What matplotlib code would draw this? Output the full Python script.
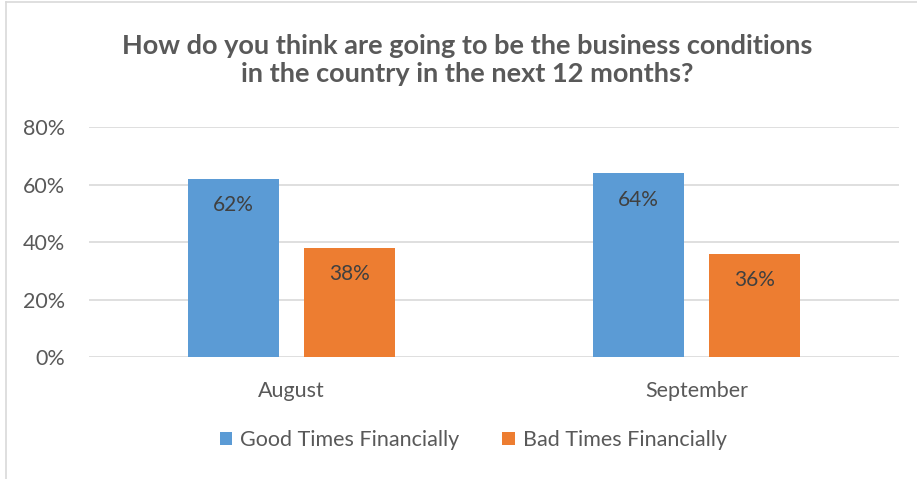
import matplotlib.pyplot as plt
import numpy as np
from matplotlib.lines import Line2D

months = ["August", "September"]
good = [62, 64]
bad = [38, 36]
series_names = ["Good Times Financially", "Bad Times Financially"]
yticks = [0, 20, 40, 60, 80]

plt.rcParams['font.family'] = ['Lato', 'DejaVu Sans']

fig = plt.figure(figsize=(9.17, 4.79), dpi=100)
ax = fig.add_axes([89/917, 1 - 357/479, 810/917, 230/479])

x = np.arange(len(months))
w = 0.225
off = 0.143
b1 = ax.bar(x - off, good, w, color="#5B9BD5", label=series_names[0], zorder=3)
b2 = ax.bar(x + off, bad, w, color="#ED7D31", label=series_names[1], zorder=3)

# value labels inside the bars, near the top
for bars, vals in ((b1, good), (b2, bad)):
    for r, v in zip(bars, vals):
        ax.text(r.get_x() + r.get_width()/2, v - 9.3, f"{v}%", ha="center",
                va="center", fontsize=15, color="#404040", zorder=4)

ax.set_xlim(-0.5, 1.5)
ax.set_ylim(0, 80)
ax.set_yticks(yticks)
ax.set_yticklabels([f"{t}%" for t in yticks])
ax.set_xticks(x)
ax.set_xticklabels(months)
ax.tick_params(length=0, labelsize=15.5, colors="#595959")
ax.tick_params(axis="y", pad=17)
ax.tick_params(axis="x", pad=17)
ax.grid(axis="y", color="#D9D9D9", linewidth=1.2, zorder=0)
for s in ax.spines.values():
    s.set_visible(False)

fig.text(0.509, 1 - 60/479, "How do you think are going to be the business conditions\nin the country in the next 12 months?",
         ha="center", va="center", fontsize=19.5, fontweight="bold", color="#595959",
         linespacing=1.25)

leg = fig.legend(loc="center", bbox_to_anchor=(0.516, 1 - 440/479), ncol=2, frameon=False,
                 fontsize=15.5, handlelength=0.6, handleheight=0.6, handletextpad=0.35,
                 columnspacing=2.0)
for t in leg.get_texts():
    t.set_color("#595959")

# light chart border
fig.add_artist(Line2D([6/917, 1], [1 - 2/479, 1 - 2/479], color="#D9D9D9", lw=1.2, transform=fig.transFigure))
fig.add_artist(Line2D([6/917, 6/917], [0, 1 - 2/479], color="#D9D9D9", lw=1.2, transform=fig.transFigure))

fig.savefig("out.png", dpi=100)
